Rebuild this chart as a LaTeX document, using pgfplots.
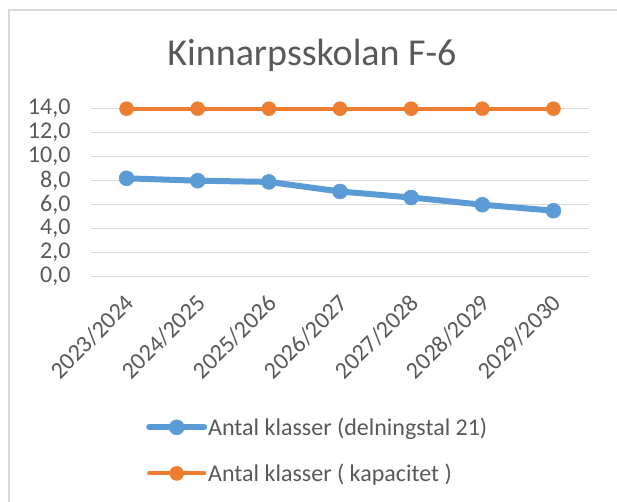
\documentclass[border=0pt]{standalone}
\usepackage{pgfplots}
\pgfplotsset{compat=1.18}
\usepackage{fontspec}
\setmainfont{Carlito}
\definecolor{cblue}{HTML}{5B9BD5}
\definecolor{corange}{HTML}{ED7D31}
\definecolor{ctext}{HTML}{595959}
\definecolor{cgrid}{HTML}{D9D9D9}
\begin{document}
\begin{tikzpicture}[x=1pt,y=1pt]
\path[use as bounding box] (0,0) rectangle (617,501);
\draw[cgrid, line width=1.2pt] (9,-20) -- (9,491) -- (640,491);
\node[anchor=base, text=ctext, font=\fontsize{38}{44}\selectfont] at (312,435) {Kinnarpsskolan F-6};
\begin{axis}[
  at={(91pt,224.3pt)}, anchor=south west,
  scale only axis, width=498pt, height=168pt,
  xmin=-0.5, xmax=6.5, ymin=0, ymax=14,
  xtick={0,...,6},
  xticklabels={2023/2024,2024/2025,2025/2026,2026/2027,2027/2028,2028/2029,2029/2030},
  ytick={0,2,...,14},
  ymajorgrids, grid style={cgrid, line width=1.3pt},
  axis line style={draw=none},
  major tick length=0pt,
  tick label style={text=ctext, font=\fontsize{24}{28}\selectfont},
  xticklabel style={rotate=45, anchor=north east, xshift=-10pt, yshift=-6pt},
  yticklabel style={xshift=-17pt, /pgf/number format/.cd, fixed, fixed zerofill, precision=1, use comma, assume math mode=true},
  clip=false,
  legend style={at={(0.1044,-0.815)}, anchor=north west, draw=none, fill=none,
    font=\fontsize{24}{28}\selectfont, text=ctext, row sep=23pt,
    nodes={inner xsep=1pt, inner ysep=2pt}},
  legend cell align=left,
  legend image code/.code={\draw[mark repeat=2,mark phase=2,#1] plot coordinates {(0pt,0pt)(27.5pt,0pt)(55pt,0pt)};},
]
\addplot[cblue, line width=6pt, line join=round, line cap=round, mark=*, mark size=7.5pt,
  mark options={solid, fill=cblue, draw=cblue, line width=0.5pt}]
  coordinates {(0,8.2)(1,8.0)(2,7.9)(3,7.1)(4,6.6)(5,6.0)(6,5.5)};
\addlegendentry{Antal klasser (delningstal 21)}
\addplot[corange, line width=4pt, line join=round, line cap=round, mark=*, mark size=7pt,
  mark options={solid, fill=corange, draw=corange, line width=0.5pt}]
  coordinates {(0,14)(1,14)(2,14)(3,14)(4,14)(5,14)(6,14)};
\addlegendentry{Antal klasser ( kapacitet )}
\end{axis}
\end{tikzpicture}
\end{document}
